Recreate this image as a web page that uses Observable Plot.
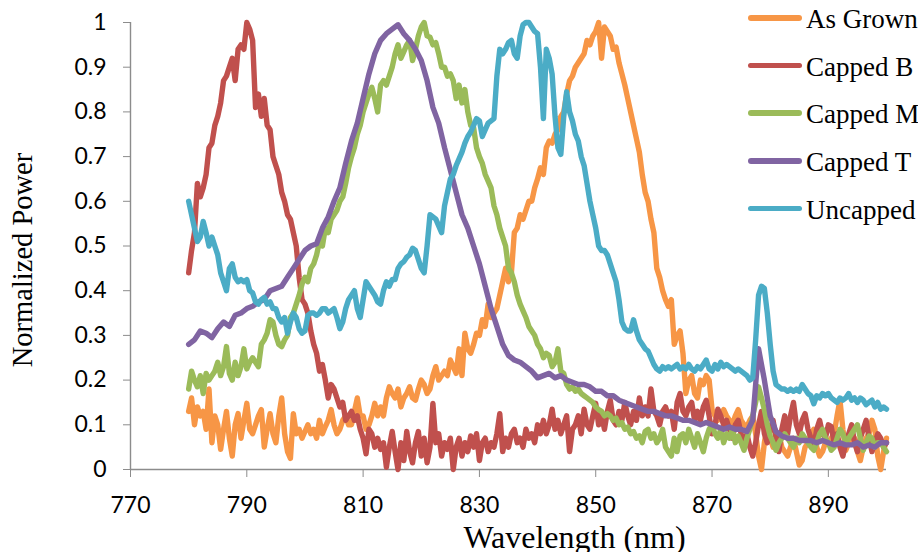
<!DOCTYPE html>
<html><head><meta charset="utf-8">
<script src="https://cdn.jsdelivr.net/npm/d3@7"></script>
<script src="https://cdn.jsdelivr.net/npm/@observablehq/plot@0.6"></script>
<style>
body{margin:0;background:#fff;}
#wrap{position:relative;width:918px;height:552px;overflow:hidden;background:#fff;}
#legend{position:absolute;left:748px;top:0;font-family:"Liberation Serif","Times New Roman",serif;font-size:27px;color:#000;}
.row{position:absolute;left:0;height:0;white-space:nowrap;}
.row .sw{position:absolute;left:0;width:54px;height:5.5px;border-radius:3px;top:-2.75px;}
.row .lb{position:absolute;left:58px;top:-15px;line-height:32px;}
</style></head>
<body><div id="wrap"></div>
<script>
// ---- data ----
const seriesNames = ["As Grown", "Capped B", "Capped M", "Capped T", "Uncapped"];
const seriesColors = ["#F79646", "#C0504D", "#9BBB59", "#8064A2", "#4BACC6"];
const xTicks = [770, 790, 810, 830, 850, 870, 890];
const yTicks = [0, 0.1, 0.2, 0.3, 0.4, 0.5, 0.6, 0.7, 0.8, 0.9, 1];
const yTickLabels = ["0", "0.1", "0.2", "0.3", "0.4", "0.5", "0.6", "0.7", "0.8", "0.9", "1"];

// wavelength grids (nm): 780..900 every 0.5 nm and every 1 nm
const wl05 = d3.range(241).map(i => 780 + i * 0.5);
const wl1 = d3.range(121).map(i => 780 + i);

const asGrown = [
 0.13,0.16,0.10,0.14,0.12,0.13,0.09,0.18,0.06,0.12,
 0.10,0.045,0.09,0.13,0.07,0.03,0.10,0.125,0.07,0.11,
 0.148,0.09,0.08,0.10,0.12,0.134,0.05,0.09,0.125,0.08,
 0.06,0.12,0.16,0.08,0.04,0.025,0.125,0.08,0.09,0.07,
 0.085,0.10,0.08,0.09,0.07,0.11,0.08,0.096,0.11,0.134,
 0.10,0.08,0.09,0.11,0.12,0.10,0.10,0.13,0.16,0.12,
 0.12,0.09,0.10,0.12,0.148,0.12,0.14,0.12,0.16,0.185,
 0.17,0.16,0.18,0.14,0.16,0.17,0.185,0.16,0.155,0.18,
 0.20,0.19,0.17,0.18,0.21,0.23,0.20,0.21,0.22,0.21,
 0.245,0.23,0.215,0.27,0.21,0.305,0.27,0.26,0.28,0.305,
 0.30,0.335,0.32,0.37,0.34,0.35,0.36,0.39,0.42,0.45,
 0.42,0.44,0.53,0.54,0.57,0.56,0.58,0.60,0.60,0.63,
 0.65,0.675,0.66,0.72,0.735,0.73,0.75,0.76,0.79,0.80,
 0.84,0.87,0.88,0.90,0.91,0.92,0.93,0.96,0.95,0.97,
 0.98,1.0,0.92,0.99,0.98,0.97,0.94,0.945,0.91,0.885,
 0.86,0.83,0.80,0.77,0.74,0.71,0.66,0.62,0.60,0.56,
 0.53,0.45,0.43,0.40,0.38,0.365,0.38,0.28,0.30,0.31,
 0.26,0.17,0.20,0.21,0.17,0.16,0.20,0.19,0.21,0.20,
 0.134,0.12,0.11,0.12,0.134,0.12,0.11,0.10,0.12,0.134,
 0.11,0.10,0.096,0.11,0.12,0.08,0.03,0.0,0.06,0.10,
 0.07,0.05,0.06,0.08,0.05,0.04,0.03,0.05,0.07,0.04,
 0.01,0.02,0.05,0.06,0.08,0.09,0.05,0.03,0.04,0.06,
 0.06,0.07,0.08,0.12,0.155,0.09,0.043,0.06,0.08,0.07,
 0.04,0.02,0.05,0.07,0.08,0.11,0.09,0.03,0.0,0.04,
 0.07
];

const cappedB = [
 0.44,0.49,0.53,0.64,0.61,0.63,0.66,0.72,0.73,0.77,
 0.79,0.82,0.87,0.88,0.90,0.92,0.87,0.94,0.95,0.94,
 1.0,0.985,0.96,0.81,0.84,0.79,0.83,0.77,0.76,0.70,
 0.68,0.66,0.62,0.60,0.57,0.56,0.53,0.50,0.43,0.38,
 0.37,0.35,0.31,0.28,0.26,0.22,0.235,0.20,0.16,0.19,
 0.18,0.16,0.14,0.15,0.11,0.12,0.13,0.11,0.12,0.09,
 0.07,0.035,0.09,0.08,0.05,0.07,0.045,0.06,0.005,0.05,
 0.085,0.04,0.0,0.06,0.02,0.085,0.04,0.015,0.06,0.085,
 0.03,0.07,0.015,0.05,0.148,0.06,0.08,0.03,0.06,0.045,
 0.07,0.0,0.05,0.07,0.03,0.06,0.04,0.075,0.05,0.08,
 0.02,0.06,0.07,0.04,0.06,0.05,0.08,0.125,0.04,0.07,
 0.05,0.08,0.09,0.06,0.07,0.05,0.09,0.07,0.08,0.06,
 0.10,0.08,0.11,0.08,0.10,0.135,0.09,0.11,0.08,0.10,
 0.12,0.04,0.09,0.10,0.12,0.08,0.135,0.10,0.09,0.12,
 0.148,0.10,0.12,0.09,0.13,0.155,0.11,0.10,0.13,0.11,
 0.15,0.12,0.10,0.13,0.11,0.16,0.12,0.14,0.12,0.18,
 0.13,0.12,0.10,0.13,0.14,0.12,0.13,0.09,0.15,0.17,
 0.13,0.12,0.14,0.15,0.11,0.13,0.11,0.14,0.155,0.12,
 0.08,0.10,0.135,0.12,0.10,0.11,0.09,0.07,0.10,0.11,
 0.08,0.06,0.08,0.05,0.03,0.06,0.10,0.13,0.08,0.06,
 0.09,0.11,0.07,0.04,0.09,0.12,0.08,0.12,0.15,0.10,
 0.08,0.11,0.125,0.09,0.07,0.05,0.09,0.11,0.08,0.07,
 0.10,0.096,0.06,0.08,0.05,0.03,0.06,0.08,0.10,0.06,
 0.04,0.07,0.09,0.11,0.07,0.04,0.06,0.08,0.07,0.05,
 0.06
];

const cappedM = [
 0.18,0.22,0.20,0.185,0.21,0.17,0.215,0.20,0.21,0.22,
 0.24,0.21,0.23,0.275,0.215,0.20,0.24,0.21,0.23,0.27,
 0.225,0.24,0.25,0.24,0.23,0.28,0.29,0.305,0.335,0.33,
 0.30,0.28,0.275,0.29,0.30,0.34,0.35,0.37,0.39,0.415,
 0.43,0.42,0.45,0.46,0.48,0.51,0.50,0.54,0.53,0.56,
 0.57,0.58,0.60,0.61,0.64,0.675,0.70,0.72,0.75,0.77,
 0.80,0.82,0.84,0.855,0.83,0.80,0.86,0.87,0.86,0.88,
 0.90,0.93,0.95,0.92,0.935,0.95,0.96,0.915,0.94,0.97,
 0.99,1.0,0.97,0.967,0.95,0.955,0.93,0.90,0.90,0.88,
 0.885,0.87,0.83,0.86,0.82,0.85,0.80,0.77,0.765,0.72,
 0.70,0.685,0.66,0.645,0.63,0.59,0.57,0.54,0.52,0.50,
 0.45,0.44,0.42,0.39,0.37,0.355,0.34,0.32,0.31,0.30,
 0.28,0.27,0.25,0.26,0.255,0.23,0.24,0.27,0.22,0.215,
 0.19,0.18,0.185,0.175,0.18,0.17,0.165,0.16,0.155,0.15,
 0.14,0.134,0.13,0.12,0.125,0.12,0.11,0.115,0.10,0.105,
 0.09,0.095,0.08,0.085,0.07,0.075,0.06,0.085,0.09,0.07,
 0.08,0.06,0.07,0.09,0.05,0.04,0.03,0.07,0.04,0.075,
 0.08,0.06,0.09,0.07,0.05,0.08,0.06,0.04,0.07,0.09,
 0.10,0.08,0.07,0.09,0.06,0.08,0.07,0.09,0.06,0.075,
 0.06,0.043,0.07,0.09,0.12,0.15,0.185,0.16,0.134,0.10,
 0.075,0.06,0.043,0.06,0.07,0.08,0.07,0.06,0.05,0.07,
 0.06,0.08,0.07,0.06,0.05,0.043,0.06,0.08,0.09,0.07,
 0.06,0.043,0.05,0.07,0.09,0.08,0.06,0.07,0.08,0.09,
 0.10,0.07,0.043,0.06,0.075,0.07,0.05,0.06,0.06,0.05,
 0.04
];

// 1 nm grid
const cappedT = [
 0.28,0.29,0.31,0.305,0.295,0.315,0.33,0.32,0.345,0.35,
 0.36,0.365,0.375,0.38,0.40,0.405,0.41,0.43,0.45,0.47,
 0.49,0.50,0.505,0.54,0.565,0.60,0.63,0.685,0.735,0.775,
 0.83,0.885,0.93,0.96,0.975,0.985,0.995,0.975,0.96,0.94,
 0.915,0.87,0.81,0.775,0.72,0.67,0.62,0.57,0.54,0.50,
 0.46,0.41,0.36,0.32,0.28,0.255,0.245,0.24,0.23,0.22,
 0.205,0.21,0.215,0.205,0.21,0.20,0.195,0.19,0.19,0.185,
 0.175,0.175,0.165,0.165,0.155,0.15,0.145,0.14,0.135,0.13,
 0.13,0.125,0.12,0.12,0.115,0.11,0.11,0.105,0.10,0.105,
 0.10,0.095,0.09,0.095,0.09,0.09,0.085,0.11,0.27,0.20,
 0.12,0.085,0.075,0.07,0.07,0.065,0.065,0.065,0.06,0.065,
 0.06,0.055,0.06,0.055,0.055,0.06,0.05,0.055,0.05,0.06,
 0.06
];

const uncapped = [
 0.60,0.57,0.54,0.51,0.52,0.555,0.53,0.50,0.52,0.50,
 0.48,0.44,0.42,0.40,0.45,0.46,0.43,0.42,0.425,0.42,
 0.425,0.40,0.395,0.375,0.37,0.38,0.385,0.37,0.375,0.36,
 0.36,0.34,0.33,0.34,0.305,0.33,0.35,0.34,0.315,0.305,
 0.31,0.345,0.35,0.35,0.345,0.35,0.36,0.36,0.35,0.355,
 0.36,0.34,0.315,0.33,0.36,0.38,0.39,0.40,0.36,0.34,
 0.38,0.42,0.41,0.40,0.39,0.375,0.37,0.40,0.42,0.41,
 0.425,0.425,0.45,0.46,0.465,0.475,0.48,0.495,0.49,0.47,
 0.45,0.44,0.50,0.57,0.565,0.56,0.545,0.53,0.59,0.62,
 0.65,0.66,0.68,0.695,0.71,0.73,0.745,0.755,0.77,0.785,
 0.78,0.745,0.76,0.775,0.78,0.785,0.88,0.94,0.93,0.94,
 0.955,0.96,0.93,0.92,0.97,0.995,1.0,1.0,0.99,0.98,
 0.975,0.90,0.785,0.94,0.92,0.885,0.79,0.72,0.705,0.79,
 0.845,0.80,0.78,0.75,0.735,0.70,0.68,0.64,0.60,0.57,
 0.54,0.50,0.49,0.49,0.48,0.46,0.44,0.42,0.38,0.33,
 0.315,0.31,0.31,0.335,0.31,0.29,0.28,0.27,0.265,0.25,
 0.235,0.225,0.22,0.23,0.225,0.23,0.225,0.23,0.235,0.225,
 0.23,0.225,0.235,0.225,0.22,0.23,0.225,0.235,0.245,0.225,
 0.22,0.235,0.225,0.24,0.23,0.235,0.23,0.225,0.22,0.225,
 0.22,0.215,0.21,0.20,0.205,0.29,0.39,0.41,0.405,0.35,
 0.28,0.22,0.19,0.185,0.18,0.18,0.175,0.18,0.175,0.18,
 0.175,0.19,0.18,0.17,0.165,0.147,0.165,0.16,0.17,0.165,
 0.17,0.16,0.155,0.15,0.16,0.155,0.16,0.17,0.155,0.16,
 0.15,0.16,0.155,0.145,0.15,0.155,0.14,0.15,0.135,0.14,
 0.135
];

// ---- build ----
const toRows = (xs, vs) => vs.map((v, i) => ({wl: xs[i], p: v}));
const seriesData = [
  toRows(wl05, asGrown),
  toRows(wl05, cappedB),
  toRows(wl05, cappedM),
  toRows(wl1, cappedT),
  toRows(wl05, uncapped)
];

const axisGray = "#8c8c8c";
const lineMarks = seriesData.map((rows, i) =>
  Plot.line(rows, {x: "wl", y: "p", stroke: seriesColors[i], strokeWidth: 5.4,
    strokeLinejoin: "round", strokeLinecap: "round"}));

const chart = Plot.plot({
  width: 918, height: 552,
  marginTop: 22, marginRight: 32, marginBottom: 83, marginLeft: 130,
  style: {fontFamily: "Lato, 'Open Sans', sans-serif", fontSize: "23px", color: "#000", background: "#fff", overflow: "hidden"},
  x: {domain: [770, 900]},
  y: {domain: [0, 1]},
  marks: [
    Plot.axisY({ticks: yTicks, tickSize: 7, tickPadding: 17, stroke: axisGray, fill: "#000",
      tickFormat: (d, i) => yTickLabels[i], label: null, fontSize: 23}),
    Plot.axisX({ticks: xTicks, tickSize: 8, tickPadding: 19, stroke: axisGray, fill: "#000",
      tickFormat: d => String(d), label: null, fontSize: 23}),
    Plot.ruleY([0], {stroke: axisGray, strokeWidth: 1.4}),
    Plot.ruleX([770], {stroke: axisGray, strokeWidth: 1.4}),
    ...lineMarks,
    Plot.text(["Normalized Power"], {text: d => d, frameAnchor: "left", rotate: -90, dx: -108, dy: 14,
      fontFamily: "Liberation Serif, 'Times New Roman', serif", fontSize: 28.5, textAnchor: "middle", fill: "#000"}),
    Plot.text(["Wavelength (nm)"], {text: d => d, frameAnchor: "bottom", dx: 66, dy: 78,
      fontFamily: "Liberation Serif, 'Times New Roman', serif", fontSize: 32, textAnchor: "middle", fill: "#000"})
  ]
});

const wrap = document.getElementById("wrap");
wrap.appendChild(chart);

// legend (top right, over the plot)
const legend = document.createElement("div");
legend.id = "legend";
const legendY = [18, 65.5, 113, 161, 208.5];
seriesNames.forEach((name, i) => {
  const row = document.createElement("div");
  row.className = "row";
  row.style.top = legendY[i] + "px";
  const sw = document.createElement("div");
  sw.className = "sw";
  sw.style.background = seriesColors[i];
  const lb = document.createElement("div");
  lb.className = "lb";
  lb.textContent = name;
  row.appendChild(sw);
  row.appendChild(lb);
  legend.appendChild(row);
});
wrap.appendChild(legend);
</script></body></html>
